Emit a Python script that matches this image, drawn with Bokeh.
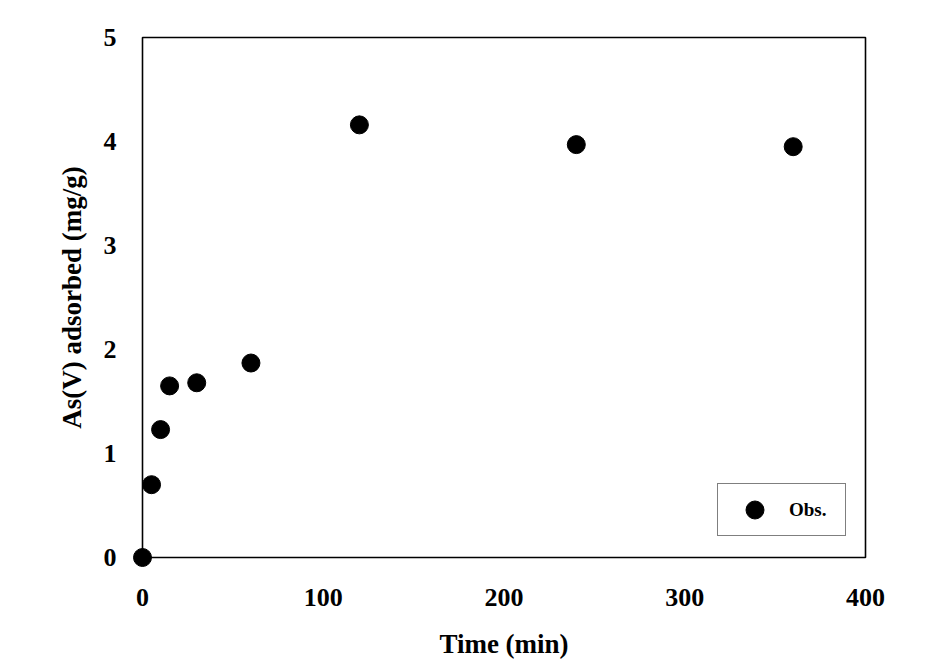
from bokeh.plotting import figure
from bokeh.models import Range1d, FixedTicker, Legend, LegendItem, ColumnDataSource
from bokeh.embed import file_html
from bokeh.resources import INLINE

# Data
time_min = [0, 5, 10, 15, 30, 60, 120, 240, 360]
as_adsorbed = [0.0, 0.70, 1.23, 1.65, 1.68, 1.87, 4.16, 3.97, 3.95]
x_ticks = [0, 100, 200, 300, 400]
y_ticks = [0, 1, 2, 3, 4, 5]
X_MIN, X_MAX = 0, 400
Y_MIN, Y_MAX = 0, 5

FONT = "Liberation Serif"
PAD_PX = 12
FRAME_W = 723
FRAME_H = 520
xpad = (X_MAX - X_MIN) * PAD_PX / FRAME_W
ypad = (Y_MAX - Y_MIN) * PAD_PX / FRAME_H

p = figure(width=950, height=672, output_backend="svg", toolbar_location=None,
           x_range=Range1d(X_MIN - xpad, X_MAX + xpad),
           y_range=Range1d(Y_MIN - ypad, Y_MAX + ypad),
           min_border_left=130, min_border_right=73,
           min_border_top=25, min_border_bottom=103)
p.outline_line_color = None
p.grid.visible = False
p.background_fill_color = "white"
p.border_fill_color = "white"

# Axis box
p.quad(left=[X_MIN], right=[X_MAX], bottom=[Y_MIN], top=[Y_MAX],
       fill_color=None, line_color="black", line_width=1.6)

src = ColumnDataSource(dict(x=time_min, y=as_adsorbed))
r = p.scatter("x", "y", source=src, size=18, marker="circle",
              fill_color="black", line_color="black")

for ax in (p.xaxis[0], p.yaxis[0]):
    ax.axis_line_color = None
    ax.major_tick_line_color = None
    ax.minor_tick_line_color = None
    ax.major_label_text_font = FONT
    ax.major_label_text_font_style = "bold"
    ax.major_label_text_font_size = "26px"
    ax.major_label_text_color = "black"
    ax.axis_label_text_font = FONT
    ax.axis_label_text_font_style = "bold"
    ax.axis_label_text_color = "black"
    ax.axis_label_text_font_size = "27px"

p.xaxis.ticker = FixedTicker(ticks=x_ticks)
p.yaxis.ticker = FixedTicker(ticks=y_ticks)
p.xaxis.axis_label = "Time (min)"
p.yaxis.axis_label = "As(V) adsorbed (mg/g)"
p.xaxis.major_label_standoff = 13
p.yaxis.major_label_standoff = 8
p.xaxis.axis_label_standoff = 20
p.yaxis.axis_label_standoff = 14

legend = Legend(items=[LegendItem(label="Obs.", renderers=[r])],
                location=(587, 33), padding=3, margin=0, spacing=0,
                glyph_width=67, glyph_height=45, label_standoff=1,
                label_width=53,
                label_text_font=FONT, label_text_font_style="bold",
                label_text_font_size="19px", label_text_color="black",
                border_line_color="black", border_line_width=1,
                background_fill_color="white", background_fill_alpha=1.0)
p.add_layout(legend, "center")

open("out.html", "w").write(file_html(p, INLINE))
